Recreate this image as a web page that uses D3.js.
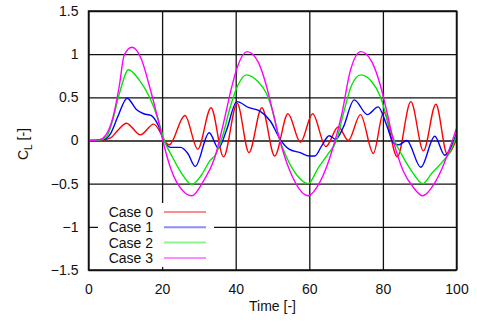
<!DOCTYPE html>
<html>
<head>
<meta charset="utf-8">
<script src="https://cdn.jsdelivr.net/npm/d3@7"></script>
<style>
  body { margin: 0; background: #fff; }
  text { font-family: "Liberation Sans", Arial, sans-serif; fill: #111; }
</style>
</head>
<body>
<svg id="chart" width="477" height="322"></svg>
<script>
// Lift coefficient vs time
const seriesNames = ["Case 0", "Case 1", "Case 2", "Case 3"]
const seriesColors = ["#ff0000", "#0000ff", "#00e600", "#ff00ff"]

const case0T = [0, 3, 6, 8, 10.3, 14.1, 17.7, 21.9, 26.2, 29.7, 33.3, 36.7, 40.4, 43.6, 47.1, 50.6, 54.2, 57.6, 60.9, 64.5, 67.9, 70.6, 73.9, 77.4, 80.2, 83.9, 87.6, 91.0, 94.4, 97.5, 100]
const case0V = [0, 0, 0.03, 0.12, 0.2, 0.065, 0.19, -0.05, 0.29, -0.1, 0.38, -0.19, 0.43, -0.14, 0.38, -0.18, 0.31, -0.02, 0.31, -0.07, 0.16, 0.0, 0.3, -0.15, 0.33, -0.19, 0.45, -0.12, 0.42, -0.16, 0.02]

const case1T = [0, 4, 6, 8, 10.5, 13, 15, 17, 19, 20.5, 22.3, 25, 27, 29, 32.8, 35.3, 37.5, 40.3, 43.6, 46.6, 49.5, 52, 54.5, 57.5, 60, 61.5, 63.4, 65.4, 67.2, 69.2, 72.2, 75.8, 78.7, 81, 82.9, 84.3, 86.5, 90.3, 94.1, 96.8, 100]
const case1V = [0, 0.01, 0.08, 0.28, 0.49, 0.36, 0.31, 0.29, 0.17, 0.0, -0.08, -0.08, -0.15, -0.3, 0.09, -0.09, 0.12, 0.45, 0.38, 0.34, 0.22, 0.02, -0.1, -0.14, -0.18, -0.18, -0.06, 0.055, 0.015, 0.15, 0.47, 0.3, 0.39, 0.18, -0.03, -0.05, 0.0, -0.31, 0.05, -0.17, 0.08]

const case2T = [0, 3, 5, 6.6, 8.5, 10.9, 13.8, 16.5, 18.8, 20.6, 22.9, 25, 28.1, 30.7, 32.9, 34.7, 36.5, 38.4, 40.6, 42.9, 46.1, 48.3, 50.1, 51.6, 53.9, 56.6, 59.7, 62.4, 65.2, 67.4, 69.2, 71.5, 74, 77, 79.3, 81.1, 82.9, 85.2, 87.9, 90.8, 93.3, 96.1, 98.3, 100]
const case2V = [0, 0.005, 0.05, 0.24, 0.56, 0.82, 0.7, 0.51, 0.26, 0.0, -0.2, -0.36, -0.51, -0.4, -0.24, -0.15, 0.06, 0.37, 0.64, 0.76, 0.68, 0.55, 0.33, 0.06, -0.2, -0.4, -0.5, -0.32, -0.15, 0.0, 0.3, 0.64, 0.76, 0.68, 0.51, 0.26, 0.02, -0.17, -0.36, -0.5, -0.38, -0.25, -0.13, 0.06]

const case3T = [0, 3, 4.75, 6.6, 8.4, 9.7, 11.8, 14.3, 16.5, 18.8, 20.2, 22, 24.5, 28.1, 31.1, 34.3, 37, 38.8, 40.6, 43.1, 46.1, 48.3, 50.1, 52, 54.8, 59.7, 62.9, 66.1, 68.8, 71.1, 74, 77, 79.3, 81.1, 82.9, 85.6, 88.4, 90.8, 93.8, 96.5, 98.8, 100]
const case3V = [0, 0.01, 0.064, 0.26, 0.64, 0.99, 1.08, 0.95, 0.64, 0.26, 0.0, -0.28, -0.52, -0.64, -0.48, -0.2, 0.26, 0.6, 0.87, 1.03, 0.91, 0.64, 0.33, 0.0, -0.36, -0.64, -0.48, -0.13, 0.3, 0.8, 1.03, 0.91, 0.64, 0.33, -0.01, -0.36, -0.55, -0.64, -0.51, -0.28, -0.01, 0.14]

const xTicks = [0, 20, 40, 60, 80, 100]
const yTicks = [-1.5, -1, -0.5, 0, 0.5, 1, 1.5]

const plot = { left: 88.5, right: 456.5, top: 11, bottom: 270 }

const svg = d3.select("#chart")

const x = d3.scaleLinear().domain([0, 100]).range([plot.left, plot.right])
const y = d3.scaleLinear().domain([-1.5, 1.5]).range([plot.bottom, plot.top])

// grid + tick labels through the axis generators
const xAxis = svg.append("g")
    .attr("transform", `translate(0,${plot.bottom})`)
    .call(d3.axisBottom(x).tickValues(xTicks).tickSize(-(plot.bottom - plot.top)).tickPadding(14).tickFormat(d3.format("d")))
xAxis.select(".domain").remove()
xAxis.selectAll("line").attr("stroke", "#111").attr("stroke-width", 1.3)
xAxis.selectAll("text").attr("font-size", "14px").attr("fill", "#111")

const yAxis = svg.append("g")
    .attr("transform", `translate(${plot.left},0)`)
    .call(d3.axisLeft(y).tickValues(yTicks).tickSize(-(plot.right - plot.left)).tickPadding(10).tickFormat(d => d3.format("")(d)))
yAxis.select(".domain").remove()
yAxis.selectAll("line").attr("stroke", "#111").attr("stroke-width", 1.3)
yAxis.selectAll("text").attr("font-size", "14px").attr("fill", "#111")

// legend box hides the grid behind it
const legendBox = { x: 98, y: 203, w: 116, h: 64 }
svg.append("rect")
    .attr("x", legendBox.x).attr("y", legendBox.y)
    .attr("width", legendBox.w).attr("height", legendBox.h)
    .attr("fill", "#fff")

seriesNames.forEach((name, i) => {
    const cy = 212 + i * 15.3
    svg.append("text")
        .attr("x", 153).attr("y", cy)
        .attr("dy", "0.35em")
        .attr("text-anchor", "end")
        .attr("font-size", "14px")
        .text(name)
    svg.append("line")
        .attr("x1", 164).attr("x2", 206)
        .attr("y1", cy).attr("y2", cy)
        .attr("stroke", seriesColors[i])
        .attr("stroke-opacity", 0.45)
        .attr("stroke-width", 2)
})

// curves
const series = [
    d3.zip(case0T, case0V),
    d3.zip(case1T, case1V),
    d3.zip(case2T, case2V),
    d3.zip(case3T, case3V)
]

const line = d3.line()
    .x(d => x(d[0]))
    .y(d => y(d[1]))
    .curve(d3.curveMonotoneX)

svg.append("g")
    .selectAll("path")
    .data(series)
    .join("path")
        .attr("d", line)
        .attr("fill", "none")
        .attr("stroke", (d, i) => seriesColors[i])
        .attr("stroke-width", 1.4)

// frame
svg.append("rect")
    .attr("x", plot.left).attr("y", plot.top)
    .attr("width", plot.right - plot.left).attr("height", plot.bottom - plot.top)
    .attr("fill", "none")
    .attr("stroke", "#111")
    .attr("stroke-width", 1.5)

// axis titles
svg.append("text")
    .attr("x", (plot.left + plot.right) / 2).attr("y", 311)
    .attr("text-anchor", "middle")
    .attr("font-size", "14px")
    .text("Time [-]")

const yTitle = svg.append("text")
    .attr("transform", "translate(28,144) rotate(-90)")
    .attr("text-anchor", "middle")
    .attr("font-size", "14px")
yTitle.append("tspan").text("C")
yTitle.append("tspan").attr("font-size", "10px").attr("dy", 4).text("L")
yTitle.append("tspan").attr("dy", -4).text(" [-]")
</script>
</body>
</html>
